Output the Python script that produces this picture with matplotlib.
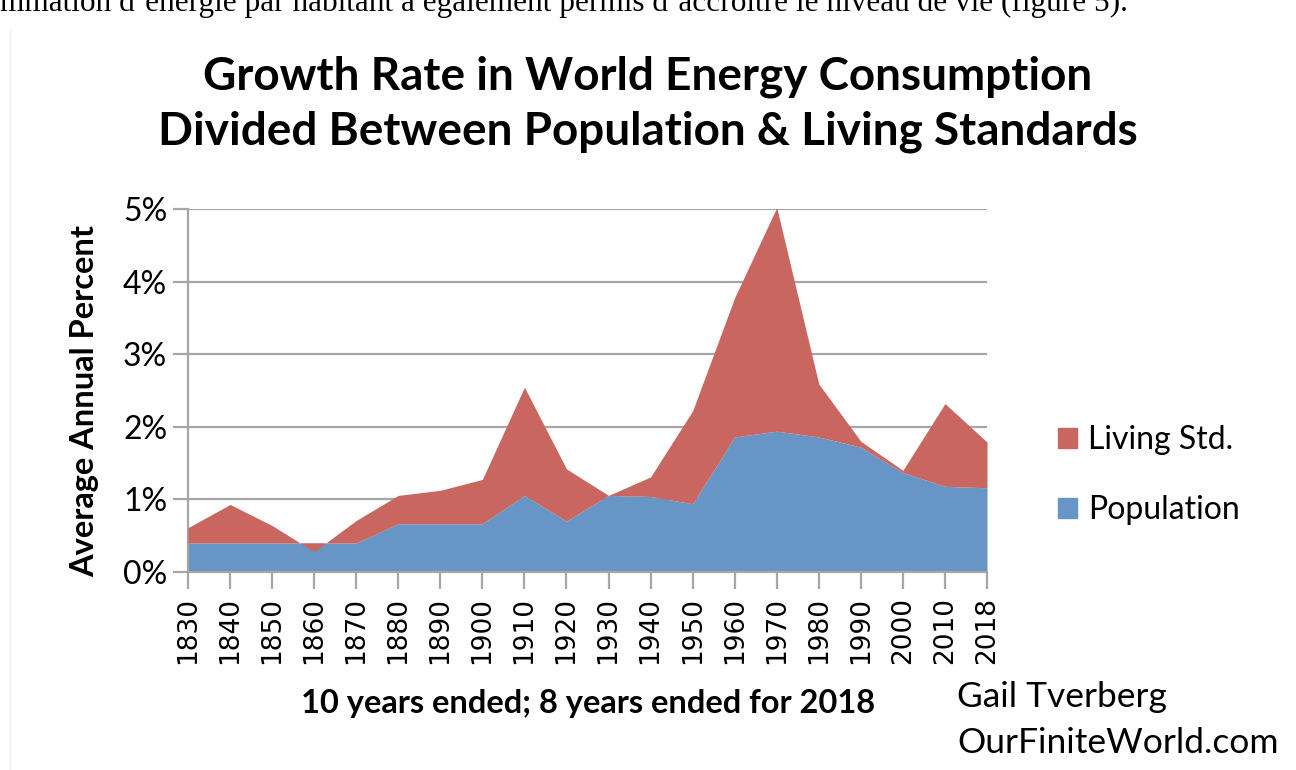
import matplotlib
matplotlib.use("Agg")
import matplotlib.pyplot as plt
from matplotlib.patches import Patch
from matplotlib.ticker import FuncFormatter
import numpy as np

years = ["1830", "1840", "1850", "1860", "1870", "1880", "1890", "1900", "1910", "1920",
         "1930", "1940", "1950", "1960", "1970", "1980", "1990", "2000", "2010", "2018"]
population = [0.40, 0.40, 0.40, 0.40, 0.40, 0.665, 0.665, 0.665, 1.055, 0.70,
              1.055, 1.04, 0.94, 1.86, 1.94, 1.86, 1.72, 1.37, 1.18, 1.16]
living_std = [0.21, 0.53, 0.24, -0.12, 0.31, 0.39, 0.46, 0.61, 1.49, 0.72,
              0.00, 0.27, 1.28, 1.92, 3.08, 0.73, 0.08, 0.03, 1.14, 0.63]
yticks = [0, 1, 2, 3, 4, 5]

RED = "#C8665F"
BLUE = "#6795C5"
GRID = "#A6A6A6"
FONT = "Lato"

fig = plt.figure(figsize=(12.96, 7.70), dpi=100)
ax = fig.add_axes([188/1296, 1 - 572/770, (987-188)/1296, (572-209)/770])

x = np.arange(len(years))
pop = np.array(population)
tot = pop + np.array(living_std)

ax.fill_between(x, 0, pop, color=BLUE, lw=0, zorder=2)
ax.fill_between(x, pop, tot, color=RED, lw=0, zorder=3)

ax.set_xlim(0, len(years) - 1)
ax.set_ylim(0, 5)
ax.set_yticks(yticks)
ax.yaxis.set_major_formatter(FuncFormatter(lambda v, p: f"{int(v)}%"))
ax.set_xticks(x)
ax.set_xticklabels(years, rotation=90, fontsize=19, family="DejaVu Sans")
for lab in ax.get_yticklabels():
    lab.set_fontsize(23)
    lab.set_family(FONT)

ax.grid(axis="y", color=GRID, lw=1.6, zorder=1)
ax.set_axisbelow(True)
for s in ["top", "right"]:
    ax.spines[s].set_visible(False)
ax.spines["left"].set_color(GRID)
ax.spines["left"].set_linewidth(1.6)
ax.spines["bottom"].set_color(GRID)
ax.spines["bottom"].set_linewidth(1.6)
ax.tick_params(axis="y", length=11, width=1.6, color=GRID, pad=4)
ax.tick_params(axis="x", length=12, width=1.6, color=GRID, pad=6)

fig.text(85/1296, 1 - 401/770, "Average Annual Percent", rotation=90, ha="center", va="center",
         fontsize=23.5, fontweight="bold", family=FONT)

fig.text(648/1296, 1 - 77/770, "Growth Rate in World Energy Consumption", ha="center", va="center",
         fontsize=33, fontweight="bold", family=FONT)
fig.text(648/1296, 1 - 132/770, "Divided Between Population & Living Standards", ha="center", va="center",
         fontsize=33, fontweight="bold", family=FONT)

fig.text(588/1296, 1 - 704/770, "10 years ended; 8 years ended for 2018", ha="center", va="center",
         fontsize=23.5, fontweight="bold", family=FONT)
fig.text(957/1296, 1 - 697/770, "Gail Tverberg", ha="left", va="center", fontsize=25.5, family=FONT)
fig.text(957/1296, 1 - 743/770, "OurFiniteWorld.com", ha="left", va="center", fontsize=25.5, family=FONT)

handles = [Patch(color=RED, label="Living Std."), Patch(color=BLUE, label="Population")]
fig.legend(handles=handles, loc="center left", bbox_to_anchor=(1058/1296, 1 - 475/770), frameon=False,
           prop={"family": FONT, "size": 23}, handlelength=0.6, handleheight=0.6, handletextpad=0.35,
           labelspacing=1.25, borderaxespad=0, borderpad=0)

fig.text(0, 1 - 11/770, "mmation d\u2019\u00e9nergie par habitant a \u00e9galement permis d\u2019accro\u00eetre le niveau de vie (figure 5).",
         ha="left", va="baseline", fontsize=22.5, family="Liberation Serif")
fig.add_artist(plt.Line2D([10/1296, 10/1296], [0, 1 - 30/770], transform=fig.transFigure, color="#EEEEEE", lw=1))

fig.savefig("out.png", dpi=100)
